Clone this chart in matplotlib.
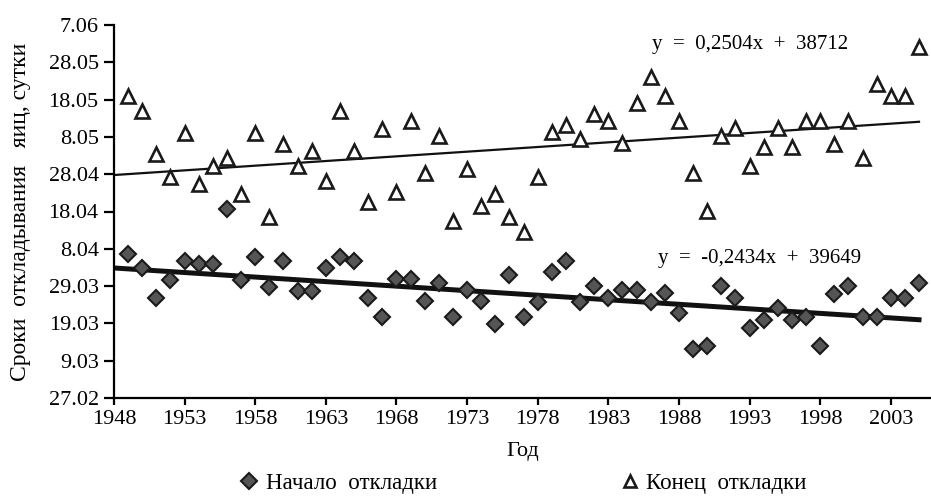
import numpy as np
import matplotlib
matplotlib.use('Agg')
import matplotlib.pyplot as plt

plt.rcParams['font.family'] = ['Liberation Serif', 'DejaVu Serif']

# ====================== DATA ======================
years = list(range(1949, 2006))

# day of year (2007 calendar): start of laying
start_doy = [96.6, 92.8, 84.9, 89.6, 94.7, 93.8, 93.8, 108.6, 89.6, 95.9,
             87.7, 94.7, 86.8, 86.8, 92.8, 95.9, 94.7, 84.9, 79.8, 89.8,
             89.8, 84.0, 88.9, 79.8, 87.0, 84.0, 77.8, 91.0, 79.8, 83.8,
             91.9, 94.7, 83.8, 87.9, 84.9, 87.0, 87.0, 83.8, 86.1, 80.9,
             71.1, 71.9, 87.9, 84.9, 76.9, 78.9, 82.0, 78.9, 79.8, 71.9,
             85.9, 87.9, 79.8, 79.8, 84.9, 84.9, 88.9]

# day of year: end of laying
end_doy = [139.0, 135.0, 123.3, 117.3, 129.1, 115.4, 120.3, 122.3, 112.6, 129.1,
           106.4, 126.1, 120.3, 124.2, 116.2, 135.0, 124.2, 110.5, 130.0, 113.3,
           132.3, 118.2, 128.2, 105.5, 119.3, 109.5, 112.6, 106.4, 102.6, 117.3,
           129.2, 131.2, 127.4, 134.1, 132.3, 126.3, 137.2, 144.0, 139.0, 132.3,
           118.2, 108.2, 128.2, 130.3, 120.3, 125.2, 130.3, 125.2, 132.3, 132.3,
           126.1, 132.3, 122.3, 142.1, 139.0, 139.0, 152.0]

# Excel trendlines (y in date serial), as printed on the chart
end_slope, end_icpt = 0.2504, 38712
start_slope, start_icpt = -0.2434, 39649
SERIAL_DAY0 = 39082   # serial of 31.12.2006 -> converts serial to day of year

ytick_days = [58, 68, 78, 88, 98, 108, 118, 128, 138, 148, 158]
ytick_labels = ['27.02', '9.03', '19.03', '29.03', '8.04', '18.04',
                '28.04', '8.05', '18.05', '28.05', '7.06']
xticks = [1948, 1953, 1958, 1963, 1968, 1973, 1978, 1983, 1988, 1993, 1998, 2003]

FS = 16
W, H = 931, 497

# ====================== PLOT ======================
fig = plt.figure(figsize=(W / 100, H / 100), dpi=100)
ax = fig.add_axes([114 / W, 1 - 398 / H, 1 - 114 / W, (398 - 25) / H])

xl = np.array([1948, 2005])
ax.plot(xl, end_slope * xl + end_icpt - SERIAL_DAY0, color='#111111', lw=1.6, zorder=2)
ax.plot(xl, start_slope * xl + start_icpt - SERIAL_DAY0, color='#111111', lw=3.6, zorder=2)

l_end, = ax.plot(years, end_doy, linestyle='none', marker='^', ms=10.5, mfc='white',
                 mec='#1a1a1a', mew=1.9, zorder=3)
l_start, = ax.plot(years, start_doy, linestyle='none', marker='D', ms=8.5, mfc='#555555',
                   mec='#1a1a1a', mew=1.5, zorder=3)

ax.set_xlim(1948, 2005.85)
ax.set_ylim(58, 158)
ax.set_xticks(xticks)
ax.set_yticks(ytick_days)
ax.set_yticklabels(ytick_labels)

for s in ['top', 'right']:
    ax.spines[s].set_visible(False)
for s in ['left', 'bottom']:
    ax.spines[s].set_linewidth(1.6)
ax.tick_params(axis='y', direction='out', length=7, width=1.6, labelsize=FS, pad=4)
ax.tick_params(axis='x', direction='out', length=5, width=1.6, labelsize=FS, pad=4)

ax.set_ylabel('Сроки  откладывания   яиц, сутки', fontsize=17)
ax.yaxis.set_label_coords(-0.101, 0.5)
ax.set_xlabel('Год', fontsize=FS, labelpad=9)

# two separate legend entries under the axis
leg_kw = dict(loc='center left', frameon=False, fontsize=16.5, borderpad=0,
              borderaxespad=0, handlelength=1.0, handletextpad=0.2)
fig.legend([l_start], ['Начало  откладки'], bbox_to_anchor=(238 / W, 1 - 483 / H),
           markerscale=1.0, **leg_kw)
fig.legend([l_end], ['Конец  откладки'], bbox_to_anchor=(619 / W, 1 - 483 / H),
           markerscale=0.8, **leg_kw)

fig.text(750 / W, 1 - 45 / H, 'y  =  0,2504x  +  38712', fontsize=15,
         ha='center', va='center')
fig.text(760 / W, 1 - 259 / H, 'y  =  -0,2434x  +  39649', fontsize=15,
         ha='center', va='center')

plt.savefig('out.png', dpi=100)
plt.close()
